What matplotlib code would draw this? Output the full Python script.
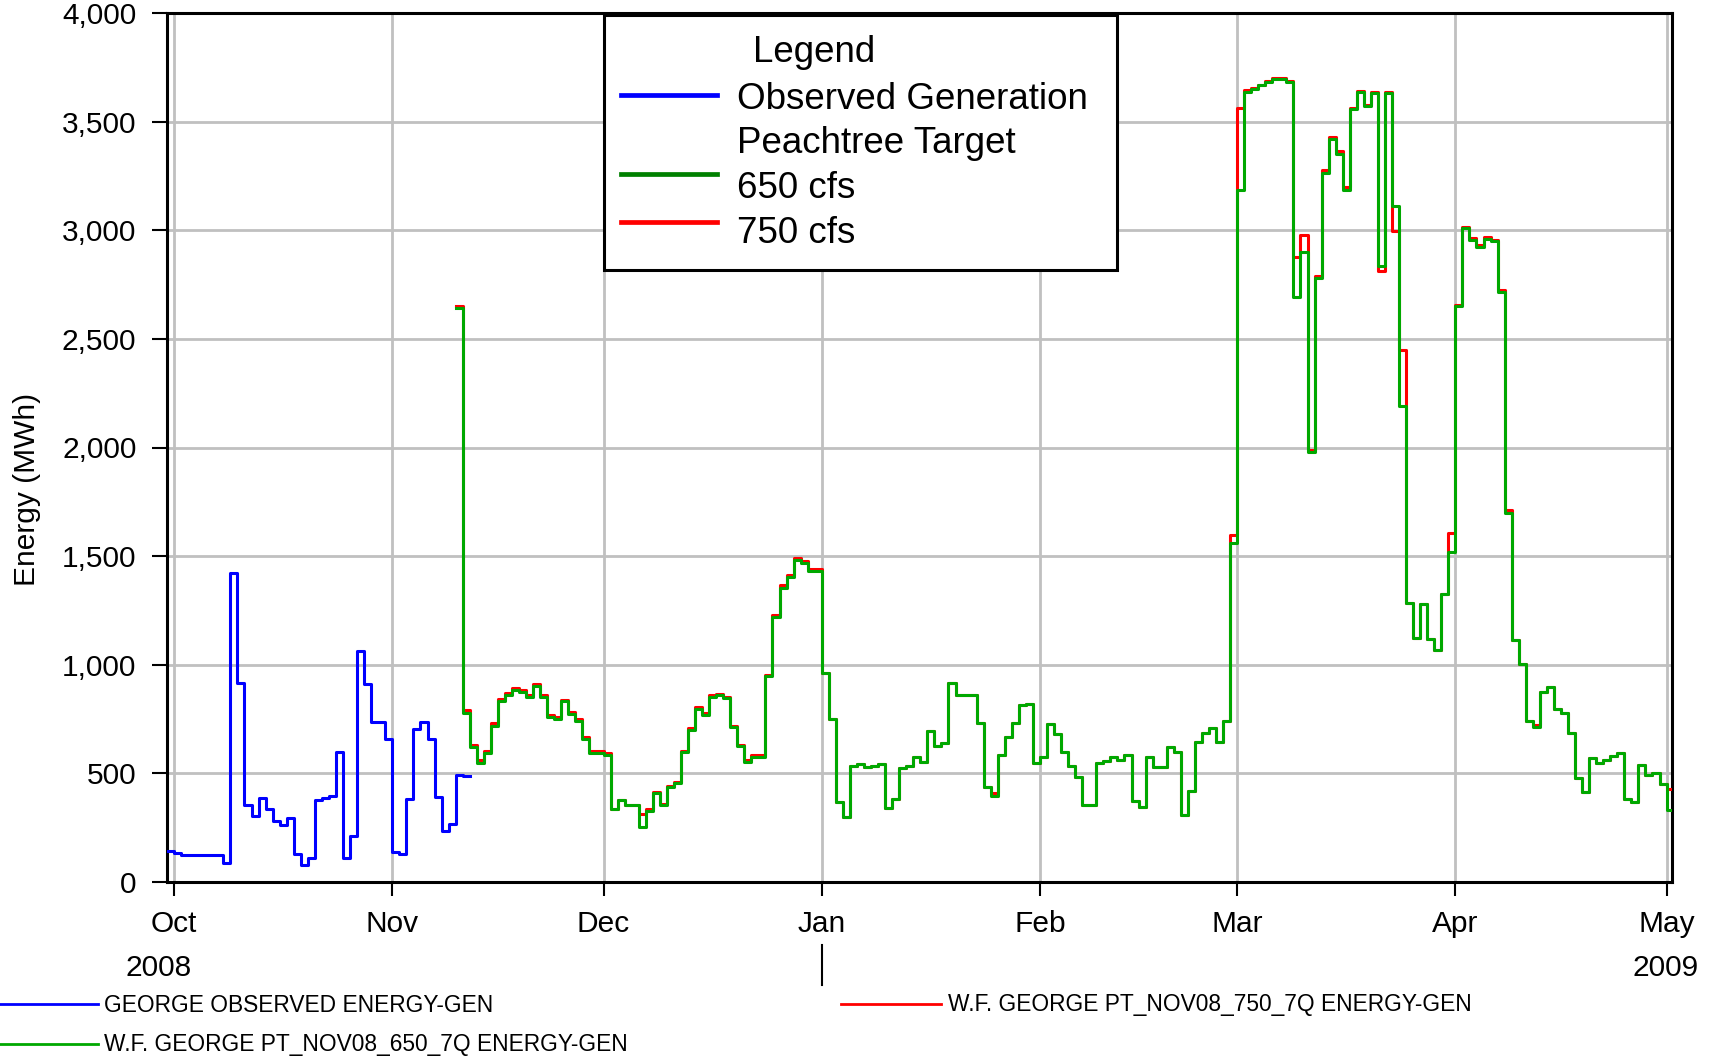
import numpy as np
import matplotlib
matplotlib.use("Agg")
import matplotlib.pyplot as plt
from matplotlib.lines import Line2D
from matplotlib.patches import Rectangle

plt.rcParams['font.family'] = ['Liberation Sans', 'DejaVu Sans']

# ---------------- data ----------------
start_date = np.datetime64('2008-10-01')
month_starts = ['2008-10-01', '2008-11-01', '2008-12-01', '2009-01-01',
                '2009-02-01', '2009-03-01', '2009-04-01', '2009-05-01']
month_labels = ['Oct', 'Nov', 'Dec', 'Jan', 'Feb', 'Mar', 'Apr', 'May']
year_labels = ['2008', '2009']
yticks = [0, 500, 1000, 1500, 2000, 2500, 3000, 3500, 4000]

# Observed generation, daily (first value = 2008-09-30)
obs_first_day = -1
observed = [141, 131, 123, 123, 123, 123, 123, 123, 85, 1424,
            913, 352, 302, 387, 336, 281, 261, 292, 127, 77,
            111, 376, 384, 396, 597, 108, 212, 1064, 910, 734,
            734, 658, 135, 126, 379, 702, 734, 658, 391, 235,
            264, 491, 488]

# Simulations, daily (first value = 2008-11-09)
sim_first_day = 40
gen_650 = [2643, 778, 622, 548, 591, 718, 832, 860, 883, 875,
           852, 901, 852, 760, 748, 833, 772, 741, 656, 591,
           591, 583, 333, 376, 352, 352, 250, 327, 407, 353,
           435, 453, 599, 699, 794, 768, 852, 860, 844, 714,
           625, 552, 575, 575, 947, 1220, 1355, 1404, 1481, 1466,
           1432, 1432, 962, 748, 368, 296, 534, 542, 527, 534,
           542, 338, 379, 522, 533, 573, 552, 695, 625, 640,
           916, 860, 860, 860, 732, 435, 395, 583, 665, 732,
           812, 818, 545, 573, 725, 680, 599, 533, 483, 353,
           353, 545, 557, 573, 560, 583, 373, 342, 573, 527,
           530, 619, 596, 307, 419, 645, 684, 710, 642, 742,
           1560, 3188, 3639, 3651, 3669, 3685, 3697, 3697, 3685, 2692,
           2900, 1980, 2781, 3265, 3423, 3354, 3188, 3558, 3639, 3574,
           3634, 2838, 3634, 3112, 2192, 1285, 1123, 1277, 1119, 1069,
           1323, 1518, 2651, 3011, 2958, 2923, 2961, 2949, 2718, 1700,
           1115, 1004, 738, 711, 876, 899, 795, 779, 684, 477,
           411, 569, 546, 561, 579, 595, 380, 369, 538, 491,
           499, 449, 331]
gen_750 = [2650, 790, 629, 560, 603, 729, 843, 870, 893, 885,
           862, 911, 858, 770, 757, 839, 780, 748, 665, 601,
           601, 591, 336, 378, 354, 354, 312, 333, 412, 357,
           440, 458, 604, 708, 803, 776, 858, 866, 851, 717,
           629, 560, 583, 583, 954, 1228, 1366, 1415, 1492, 1477,
           1442, 1442, 962, 748, 368, 296, 534, 542, 527, 534,
           542, 338, 379, 522, 533, 573, 552, 695, 625, 640,
           916, 860, 860, 860, 732, 435, 407, 583, 665, 732,
           812, 818, 545, 573, 725, 680, 599, 533, 483, 353,
           353, 545, 557, 573, 560, 583, 373, 342, 573, 527,
           530, 619, 596, 307, 419, 645, 684, 710, 642, 742,
           1595, 3565, 3645, 3655, 3672, 3688, 3700, 3700, 3688, 2877,
           2977, 1989, 2792, 3277, 3428, 3365, 3200, 3565, 3642, 3578,
           3637, 2812, 3637, 2997, 2449, 1285, 1123, 1277, 1119, 1069,
           1323, 1608, 2657, 3017, 2966, 2931, 2970, 2957, 2727, 1712,
           1115, 1004, 738, 724, 876, 899, 795, 779, 684, 477,
           411, 569, 546, 561, 579, 595, 380, 369, 538, 491,
           499, 449, 426]

legend_title = 'Legend'
legend_entries = ['Observed Generation', 'Peachtree Target\n650 cfs', '750 cfs']
bottom_labels = ['GEORGE OBSERVED ENERGY-GEN',
                 'W.F. GEORGE PT_NOV08_750_7Q ENERGY-GEN',
                 'W.F. GEORGE PT_NOV08_650_7Q ENERGY-GEN']

# ---------------- figure ----------------
W, H = 1712, 1056
fig = plt.figure(figsize=(W / 100, H / 100), dpi=100)


def fx(x):
    return x / W


def fy(y):
    return 1 - y / H


ax = fig.add_axes([fx(166.7), fy(881.7), fx(1671.7) - fx(166.7), fy(13.3) - fy(881.7)])

BLUE = '#0000FF'
GREEN = '#00A800'
RED = '#FF0000'


def step_series(first_day, vals, end):
    x = np.arange(first_day, first_day + len(vals), dtype=float)
    x = np.append(x, end)
    y = np.append(np.array(vals, dtype=float), vals[-1])
    return x, y


xmin, xmax = -1.05, 212.73
xo, yo = step_series(obs_first_day, observed, obs_first_day + len(observed))
xr, yr = step_series(sim_first_day, gen_750, xmax + 1)
xg, yg = step_series(sim_first_day, gen_650, xmax + 1)

ax.plot(xo, yo, drawstyle='steps-post', color=BLUE, lw=2.2, zorder=3)
ax.plot(xr, yr, drawstyle='steps-post', color=RED, lw=2.2, zorder=3)
ax.plot(xg, yg, drawstyle='steps-post', color=GREEN, lw=2.2, zorder=4)

month_pos = [(np.datetime64(m) - start_date).astype(int) for m in month_starts]
ax.set_xlim(xmin, xmax)
ax.set_ylim(0, 4000)
ax.set_xticks(month_pos)
ax.set_xticklabels(month_labels, fontsize=21.5)
ax.set_yticks(yticks)
ax.set_yticklabels([f'{v:,}' for v in yticks], fontsize=21.5)
ax.tick_params(axis='x', length=10, width=1.5, pad=10.5, direction='out')
ax.tick_params(axis='y', length=10.8, width=1.5, pad=11, direction='out')
ax.grid(True, color='#C0C0C0', lw=2.0, zorder=0)
ax.set_axisbelow(True)
for s in ax.spines.values():
    s.set_linewidth(2.2)
    s.set_color('black')

# year labels and separator
fig.text(fx(159), fy(968), year_labels[0], fontsize=21.5, ha='center', va='center')
fig.text(fx(1633), fy(968), year_labels[1], fontsize=21.5, ha='left', va='center')
jan_x = ax.transData.transform((month_pos[3], 0))[0] / W
fig.add_artist(Line2D([jan_x, jan_x], [fy(945), fy(985)], color='black', lw=1.5))

# y label
fig.text(fx(27), fy(489), 'Energy (MWh)', fontsize=21.5, rotation=90,
         ha='center', va='center')

# inner legend box
fig.add_artist(Rectangle((fx(604), fy(270)), fx(1117.3) - fx(604), fy(15) - fy(270),
                         facecolor='white', edgecolor='black', lw=2.2, zorder=10))
fig.text(fx(753), fy(61.7), legend_title, fontsize=26.5, ha='left', va='baseline', zorder=11)
lines_y = [95, 174, 222.3]
handle_colors = [BLUE, '#008000', RED]
for yy, c in zip(lines_y, handle_colors):
    fig.add_artist(Line2D([fx(620.7), fx(716.7)], [fy(yy), fy(yy)], color=c, lw=3.4, zorder=11))
text_lines = legend_entries[0].split('\n') + legend_entries[1].split('\n') + legend_entries[2].split('\n')
baselines = [109.3, 152.7, 198.3, 243.3]
for t, b in zip(text_lines, baselines):
    fig.text(fx(737), fy(b), t, fontsize=26.5, ha='left', va='baseline', zorder=11)

# bottom legend
fig.add_artist(Line2D([fx(0), fx(98)], [fy(1004), fy(1004)], color=BLUE, lw=2))
fig.text(fx(104), fy(1005), bottom_labels[0], fontsize=16.4, ha='left', va='center')
fig.add_artist(Line2D([fx(841), fx(941)], [fy(1004), fy(1004)], color=RED, lw=2))
fig.text(fx(948), fy(1005), bottom_labels[1], fontsize=16.4, ha='left', va='center')
fig.add_artist(Line2D([fx(0), fx(98)], [fy(1044), fy(1044)], color=GREEN, lw=2))
fig.text(fx(104), fy(1045), bottom_labels[2], fontsize=16.4, ha='left', va='center')

fig.savefig('out.png', dpi=100)
